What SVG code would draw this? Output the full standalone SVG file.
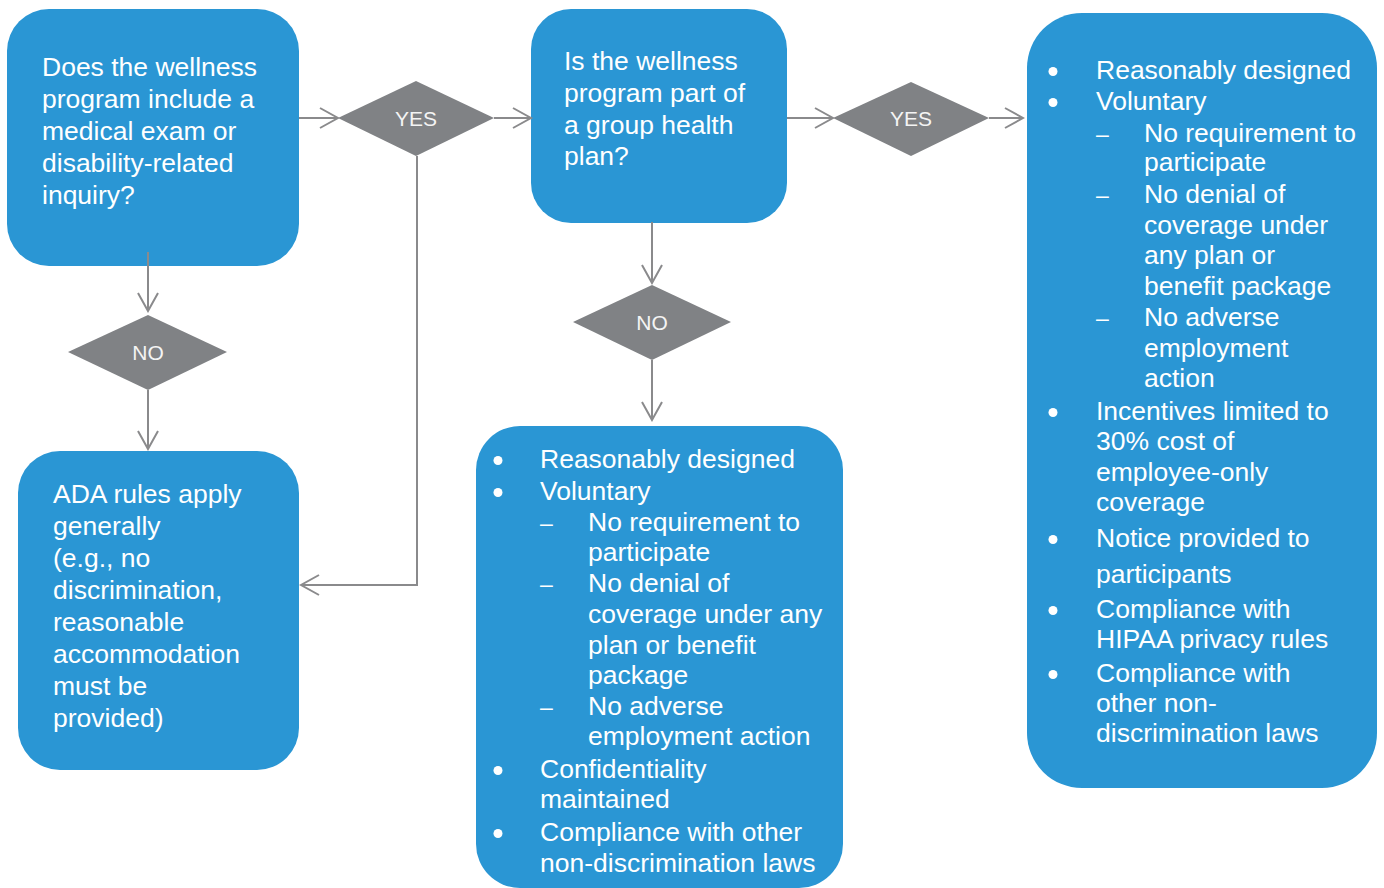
<svg xmlns="http://www.w3.org/2000/svg" width="1384" height="888" viewBox="0 0 1384 888">
<defs>
<marker id="arr" markerUnits="userSpaceOnUse" viewBox="0 0 22 24" markerWidth="22" markerHeight="24" refX="20" refY="12" orient="auto">
<path d="M2,2 L20,12 L2,22" fill="none" stroke="#8a8a8c" stroke-width="2"/>
</marker>
<style>
.box{fill:#2a96d4}
.dia{fill:#808285}
.t{font-family:"Liberation Sans",Arial,sans-serif;font-size:26.5px;fill:#ffffff}
.d{font-family:"Liberation Sans",Arial,sans-serif;font-size:21px;fill:#f4f4f4;text-anchor:middle}
.dash{font-family:"Liberation Sans",Arial,sans-serif;font-size:23px;fill:#ffffff}
.b{fill:#ffffff}
.c{fill:none;stroke:#8a8a8c;stroke-width:2}
</style>
</defs>
<rect width="1384" height="888" fill="#ffffff"/>
<g id="q1">
<rect class="box" x="7" y="9" width="292" height="257" rx="42"/>
<text class="t"><tspan x="42" y="76">Does the wellness</tspan><tspan x="42" y="108">program include a</tspan><tspan x="42" y="140">medical exam or</tspan><tspan x="42" y="172">disability-related</tspan><tspan x="42" y="204">inquiry?</tspan></text>
</g>
<g id="yes1">
<polygon class="dia" points="338,118 416,81 494,118 416,156"/>
<text class="d" x="416" y="126">YES</text>
</g>
<g id="q2">
<rect class="box" x="531" y="9" width="256" height="214" rx="40"/>
<text class="t"><tspan x="564" y="70">Is the wellness</tspan><tspan x="564" y="102">program part of</tspan><tspan x="564" y="134">a group health</tspan><tspan x="564" y="165">plan?</tspan></text>
</g>
<g id="yes2">
<polygon class="dia" points="833,118 911,82 989,118 911,156"/>
<text class="d" x="911" y="126">YES</text>
</g>
<g id="no1">
<polygon class="dia" points="68,352 148,315 227,352 148,390"/>
<text class="d" x="148" y="360">NO</text>
</g>
<g id="no2">
<polygon class="dia" points="573,322 652,285 731,322 652,360"/>
<text class="d" x="652" y="330">NO</text>
</g>
<g id="ada">
<rect class="box" x="18" y="451" width="281" height="319" rx="42"/>
<text class="t"><tspan x="53" y="503">ADA rules apply</tspan><tspan x="53" y="535">generally</tspan><tspan x="53" y="567">(e.g., no</tspan><tspan x="53" y="599">discrimination,</tspan><tspan x="53" y="631">reasonable</tspan><tspan x="53" y="663">accommodation</tspan><tspan x="53" y="695">must be</tspan><tspan x="53" y="727">provided)</tspan></text>
</g>
<g id="nonplan">
<rect class="box" x="476" y="426" width="367" height="462" rx="44"/>
<circle class="b" cx="498" cy="460.5" r="4.5"/>
<circle class="b" cx="498" cy="492.5" r="4.5"/>
<circle class="b" cx="498" cy="770.5" r="4.5"/>
<circle class="b" cx="498" cy="833.5" r="4.5"/>
<text class="dash"><tspan x="540" y="531">–</tspan><tspan x="540" y="592">–</tspan><tspan x="540" y="715">–</tspan></text>
<text class="t"><tspan x="540" y="468">Reasonably designed</tspan><tspan x="540" y="500">Voluntary</tspan><tspan x="588" y="531">No requirement to</tspan><tspan x="588" y="561">participate</tspan><tspan x="588" y="592">No denial of</tspan><tspan x="588" y="623">coverage under any</tspan><tspan x="588" y="654">plan or benefit</tspan><tspan x="588" y="684">package</tspan><tspan x="588" y="715">No adverse</tspan><tspan x="588" y="745">employment action</tspan><tspan x="540" y="778">Confidentiality</tspan><tspan x="540" y="808">maintained</tspan><tspan x="540" y="841">Compliance with other</tspan><tspan x="540" y="872">non-discrimination laws</tspan></text>
</g>
<g id="plan">
<rect class="box" x="1027" y="13" width="350" height="775" rx="55"/>
<circle class="b" cx="1053" cy="71.5" r="4.5"/>
<circle class="b" cx="1053" cy="102.5" r="4.5"/>
<circle class="b" cx="1053" cy="412.5" r="4.5"/>
<circle class="b" cx="1053" cy="539.5" r="4.5"/>
<circle class="b" cx="1053" cy="610.5" r="4.5"/>
<circle class="b" cx="1053" cy="674.5" r="4.5"/>
<text class="dash"><tspan x="1096" y="142">–</tspan><tspan x="1096" y="203">–</tspan><tspan x="1096" y="326">–</tspan></text>
<text class="t"><tspan x="1096" y="79">Reasonably designed</tspan><tspan x="1096" y="110">Voluntary</tspan><tspan x="1144" y="142">No requirement to</tspan><tspan x="1144" y="171">participate</tspan><tspan x="1144" y="203">No denial of</tspan><tspan x="1144" y="234">coverage under</tspan><tspan x="1144" y="264">any plan or</tspan><tspan x="1144" y="295">benefit package</tspan><tspan x="1144" y="326">No adverse</tspan><tspan x="1144" y="357">employment</tspan><tspan x="1144" y="387">action</tspan><tspan x="1096" y="420">Incentives limited to</tspan><tspan x="1096" y="450">30% cost of</tspan><tspan x="1096" y="481">employee-only</tspan><tspan x="1096" y="511">coverage</tspan><tspan x="1096" y="547">Notice provided to</tspan><tspan x="1096" y="583">participants</tspan><tspan x="1096" y="618">Compliance with</tspan><tspan x="1096" y="648">HIPAA privacy rules</tspan><tspan x="1096" y="682">Compliance with</tspan><tspan x="1096" y="712">other non-</tspan><tspan x="1096" y="742">discrimination laws</tspan></text>
</g>
<g id="connectors">
<line class="c" x1="299" y1="118" x2="338" y2="118" marker-end="url(#arr)"/>
<line class="c" x1="494" y1="118" x2="531" y2="118" marker-end="url(#arr)"/>
<line class="c" x1="787" y1="118" x2="833" y2="118" marker-end="url(#arr)"/>
<line class="c" x1="989" y1="118" x2="1023" y2="118" marker-end="url(#arr)"/>
<line class="c" x1="148" y1="252" x2="148" y2="311" marker-end="url(#arr)"/>
<line class="c" x1="148" y1="390" x2="148" y2="449" marker-end="url(#arr)"/>
<polyline class="c" points="417,156 417,585 301,585" marker-end="url(#arr)"/>
<line class="c" x1="652" y1="222" x2="652" y2="283" marker-end="url(#arr)"/>
<line class="c" x1="652" y1="360" x2="652" y2="420" marker-end="url(#arr)"/>
</g>
</svg>
